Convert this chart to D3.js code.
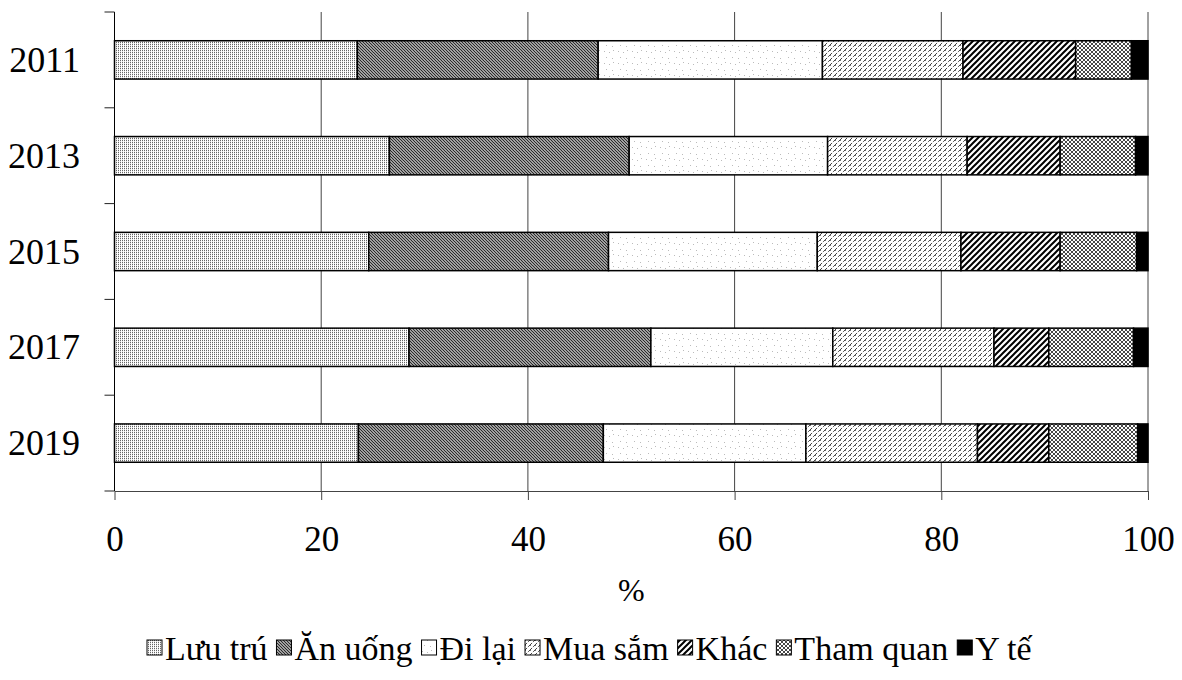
<!DOCTYPE html>
<html>
<head>
<meta charset="utf-8">
<script src="https://cdn.jsdelivr.net/npm/d3@7"></script>
<style>
  html, body { margin: 0; padding: 0; background: #fff; }
  svg { display: block; font-family: "Liberation Serif", "Times New Roman", serif; }
</style>
</head>
<body>
<svg id="chart" width="1182" height="680"></svg>
<script>
// Spending structure of visitors by year (%)
const years = ["2011", "2013", "2015", "2017", "2019"];
const seriesNames = ["Lưu trú", "Ăn uống", "Đi lại", "Mua sắm", "Khác", "Tham quan", "Y tế"];
const luuTru   = [23.5, 26.6, 24.6, 28.5, 23.6];
const anUong   = [23.3, 23.2, 23.2, 23.4, 23.7];
const diLai    = [21.7, 19.2, 20.2, 17.6, 19.6];
const muaSam   = [13.6, 13.5, 13.9, 15.6, 16.6];
const khac     = [10.9,  9.0,  9.6,  5.3,  6.9];
const thamQuan = [ 5.4,  7.3,  7.4,  8.2,  8.6];
const yTe      = [ 1.6,  1.2,  1.1,  1.4,  1.0];
const xTicks = [0, 20, 40, 60, 80, 100];
const xTitle = "%";

const seriesValues = [luuTru, anUong, diLai, muaSam, khac, thamQuan, yTe];
const rows = years.map((y, i) => {
  const r = { year: y };
  seriesNames.forEach((s, k) => { r[s] = seriesValues[k][i]; });
  return r;
});

const svg = d3.select("#chart");
const defs = svg.append("defs");

// Hatch fills, one per spending category
function pattern(id, w, h, build) {
  const p = defs.append("pattern")
    .attr("id", id).attr("patternUnits", "userSpaceOnUse")
    .attr("width", w).attr("height", h);
  p.append("rect").attr("width", w).attr("height", h).attr("fill", "#fff");
  build(p);
}
pattern("p0", 4, 4, p => {
  [[0, 0], [2, 2], [0, 2], [2, 0]].forEach(([x, y]) =>
    p.append("rect").attr("x", x).attr("y", y).attr("width", 1).attr("height", 1.2).attr("fill", "#666"));
});
pattern("p1", 3, 3, p => {
  p.append("path").attr("d", "M0,0L3,3M-1,2L1,4M2,-1L4,1")
    .attr("stroke", "#2a2a2a").attr("stroke-width", 1.3);
});
pattern("p2", 14, 12, p => {
  [[2, 3], [7, 4], [11, 2], [4, 9], [10, 10]].forEach(([x, y]) =>
    p.append("rect").attr("x", x).attr("y", y).attr("width", 1).attr("height", 1).attr("fill", "#bbb"));
});
pattern("p3", 5, 5, p => {
  p.append("path").attr("d", "M0,5L5,0M-1,1L1,-1M4,6L6,4")
    .attr("stroke", "#444").attr("stroke-width", 1).attr("stroke-dasharray", "3,1.5");
  p.append("rect").attr("x", 0).attr("y", 0).attr("width", 1).attr("height", 1).attr("fill", "#777");
});
pattern("p4", 6, 6, p => {
  p.append("path").attr("d", "M0,6L6,0M-1,1L1,-1M5,7L7,5")
    .attr("stroke", "#000").attr("stroke-width", 2);
});
pattern("p5", 4, 4, p => {
  p.append("path").attr("d", "M0,4L4,0M-1,1L1,-1M3,5L5,3M0,0L4,4M-1,3L1,5M3,-1L5,1")
    .attr("stroke", "#333").attr("stroke-width", 0.9);
});
const fills = ["url(#p0)", "url(#p1)", "url(#p2)", "url(#p3)", "url(#p4)", "url(#p5)", "#000"];

// Scales
const x = d3.scaleLinear().domain([0, 100]).range([114.5, 1148]);
const y = d3.scaleBand().domain(years).range([12, 491]).paddingInner(0.6).paddingOuter(0.3);

// Vertical gridlines
svg.append("g").selectAll("line").data(xTicks.slice(1)).join("line")
  .attr("x1", d => x(d)).attr("x2", d => x(d))
  .attr("y1", 12).attr("y2", 491)
  .attr("stroke", "#444").attr("stroke-width", 1);

// Stacked bars
const stack = d3.stack().keys(seriesNames)(rows);
svg.append("g").selectAll("g").data(stack).join("g")
  .attr("fill", (d, i) => fills[i])
  .selectAll("rect").data(d => d).join("rect")
  .attr("x", d => x(d[0]))
  .attr("y", d => y(d.data.year))
  .attr("width", d => x(d[1]) - x(d[0]))
  .attr("height", y.bandwidth())
  .attr("stroke", "#000").attr("stroke-width", 1.5);

// X axis
const xAxis = svg.append("g").attr("transform", "translate(0,491)")
  .call(d3.axisBottom(x).tickValues(xTicks).tickSizeInner(9).tickSizeOuter(0).tickPadding(26));
xAxis.select(".domain").attr("stroke", "#444");
xAxis.selectAll(".tick line").attr("stroke", "#444");
xAxis.selectAll("text").attr("font-size", 35).attr("fill", "#000")
  .attr("font-family", "Liberation Serif, Times New Roman, serif");

// Y axis with ticks at band boundaries
const step = y.step();
const bounds = d3.range(years.length + 1).map(i => 12 + i * step);
svg.append("line").attr("x1", x(0)).attr("x2", x(0)).attr("y1", 12).attr("y2", 491)
  .attr("stroke", "#000").attr("stroke-width", 1);
svg.append("g").selectAll("line").data(bounds).join("line")
  .attr("x1", x(0) - 10).attr("x2", x(0)).attr("y1", d => d).attr("y2", d => d)
  .attr("stroke", "#222").attr("stroke-width", 1);
svg.append("g").selectAll("text").data(years).join("text")
  .attr("x", 80).attr("y", d => y(d) + y.bandwidth() / 2 + 12)
  .attr("text-anchor", "end").attr("font-size", 36).text(d => d);

// Axis title
svg.append("text").attr("x", (x(0) + x(100)) / 2).attr("y", 601)
  .attr("text-anchor", "middle").attr("font-size", 32).text(xTitle);

// Legend
const legend = svg.append("g").attr("transform", "translate(0,660)");
let cx = 147;
seriesNames.forEach((s, i) => {
  legend.append("rect").attr("x", cx).attr("y", -20).attr("width", 15).attr("height", 15)
    .attr("fill", fills[i]).attr("stroke", "#000").attr("stroke-width", 1);
  const t = legend.append("text").attr("x", cx + 18).attr("y", 0)
    .attr("font-size", 34).text(s);
  cx += 18 + t.node().getComputedTextLength() + 9;
});
</script>
</body>
</html>
